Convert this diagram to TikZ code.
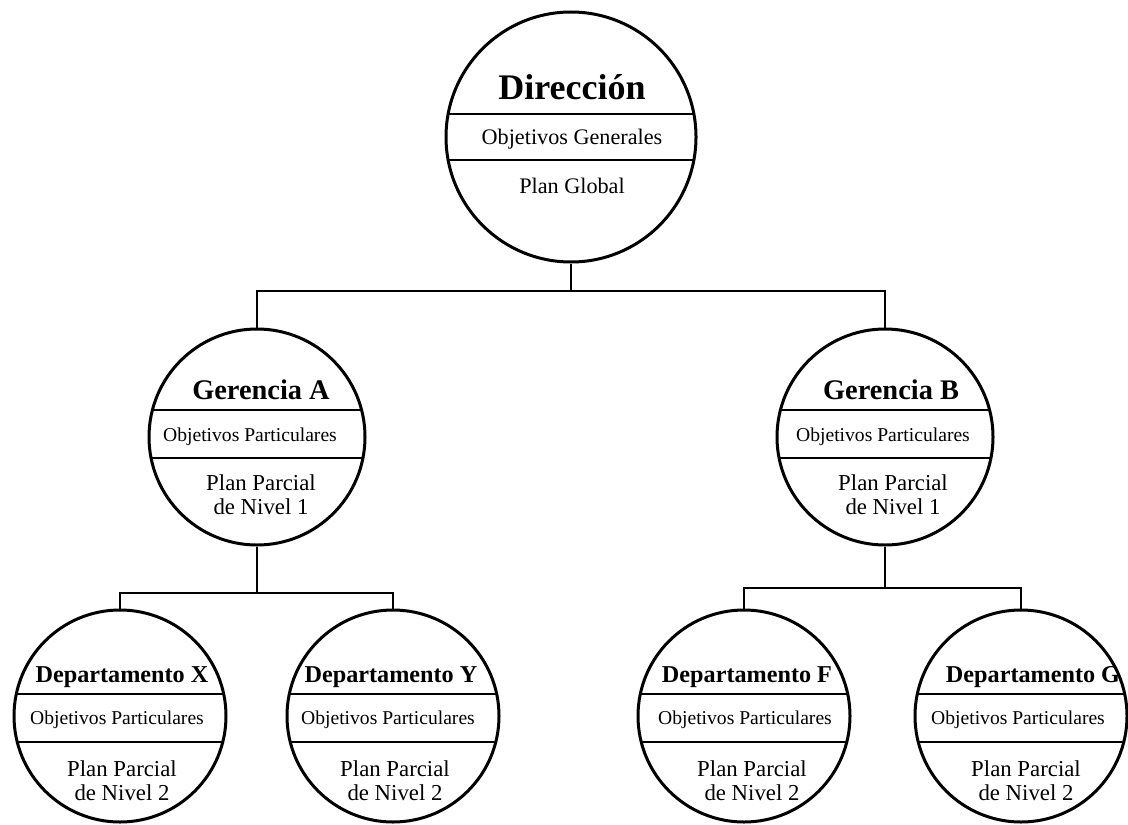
\documentclass[tikz,border=0pt]{standalone}
\usepackage{fontspec}
\setmainfont{Liberation Serif}
\tikzstyle{circulo}=[shape=circle,draw,line width=1.5pt,inner sep=0]
\tikzstyle{jefe}=[circulo,minimum size=125pt]
\tikzstyle{gerencia}=[circulo,minimum size=108pt]
\tikzstyle{depto}=[circulo,minimum size=106pt]
\tikzstyle{raya}=[line width=1pt]
\tikzstyle{conn}=[line width=0.8pt]
\tikzstyle{tjefe}=[anchor=base,inner sep=0,font=\bfseries\fontsize{18}{20}\selectfont]
\tikzstyle{tger}=[anchor=base,inner sep=0,font=\bfseries\fontsize{14.2}{16}\selectfont]
\tikzstyle{tdep}=[anchor=base,inner sep=0,font=\bfseries\fontsize{12.1}{14}\selectfont]
\tikzstyle{objgen}=[anchor=base,inner sep=0,font=\fontsize{11.1}{13}\selectfont]
\tikzstyle{objpar}=[anchor=base,inner sep=0,font=\fontsize{9.8}{12}\selectfont]
\tikzstyle{plan}=[inner sep=0,align=center,font=\fontsize{11.4}{12}\selectfont]

\begin{document}
\begin{tikzpicture}[x=0.5pt,y=-0.5pt]
\useasboundingbox (0,0) rectangle (1128,824);
% circulos
\node[jefe] (dir) at (571,137) {};
\node[gerencia] (gerA) at (257,437) {};
\node[gerencia] (gerB) at (885,437) {};
\node[depto] (depX) at (120,716) {};
\node[depto] (depY) at (393,716) {};
\node[depto] (depF) at (744,716) {};
\node[depto] (depG) at (1021,716) {};

% rayas dentro de cada circulo
\begin{scope}
\clip (dir.center) circle (62.5pt);
\draw[raya] ([yshift=11.5pt]dir.west)--([yshift=11.5pt]dir.east);
\draw[raya] ([yshift=-11.5pt]dir.west)--([yshift=-11.5pt]dir.east);
\end{scope}
\begin{scope}
\clip (gerA.center) circle (54pt);
\draw[raya] ([yshift=13.5pt]gerA.west)--([yshift=13.5pt]gerA.east);
\draw[raya] ([yshift=-10.5pt]gerA.west)--([yshift=-10.5pt]gerA.east);
\end{scope}
\begin{scope}
\clip (gerB.center) circle (54pt);
\draw[raya] ([yshift=13.5pt]gerB.west)--([yshift=13.5pt]gerB.east);
\draw[raya] ([yshift=-10.5pt]gerB.west)--([yshift=-10.5pt]gerB.east);
\end{scope}
\begin{scope}
\clip (depX.center) circle (53pt);
\draw[raya] ([yshift=11pt]depX.west)--([yshift=11pt]depX.east);
\draw[raya] ([yshift=-13pt]depX.west)--([yshift=-13pt]depX.east);
\end{scope}
\begin{scope}
\clip (depY.center) circle (53pt);
\draw[raya] ([yshift=11pt]depY.west)--([yshift=11pt]depY.east);
\draw[raya] ([yshift=-13pt]depY.west)--([yshift=-13pt]depY.east);
\end{scope}
\begin{scope}
\clip (depF.center) circle (53pt);
\draw[raya] ([yshift=11pt]depF.west)--([yshift=11pt]depF.east);
\draw[raya] ([yshift=-13pt]depF.west)--([yshift=-13pt]depF.east);
\end{scope}
\begin{scope}
\clip (depG.center) circle (53pt);
\draw[raya] ([yshift=11pt]depG.west)--([yshift=11pt]depG.east);
\draw[raya] ([yshift=-13pt]depG.west)--([yshift=-13pt]depG.east);
\end{scope}

% textos
\node[tjefe] (dirT) at (572,99) {Dirección};
\node[objgen] (dirO) at (572,144) {Objetivos Generales};
\node[objgen] (dirP) at (572,193) {Plan Global};

\node[tger] (gerAT) at (261,399) {Gerencia A};
\node[objpar] (gerAO) at (250,441) {Objetivos Particulares};
\node[plan] (gerAP) at (261,495) {Plan Parcial\\de Nivel 1};
\node[tger] (gerBT) at (891,399) {Gerencia B};
\node[objpar] (gerBO) at (883,441) {Objetivos Particulares};
\node[plan] (gerBP) at (893,495) {Plan Parcial\\de Nivel 1};

\node[tdep] (depXT) at (122,682) {Departamento X};
\node[objpar] (depXO) at (117,724) {Objetivos Particulares};
\node[plan] (depXP) at (122,781) {Plan Parcial\\de Nivel 2};
\node[tdep] (depYT) at (391,682) {Departamento Y};
\node[objpar] (depYO) at (388,724) {Objetivos Particulares};
\node[plan] (depYP) at (395,781) {Plan Parcial\\de Nivel 2};
\node[tdep] (depFT) at (747,682) {Departamento F};
\node[objpar] (depFO) at (745,724) {Objetivos Particulares};
\node[plan] (depFP) at (752,781) {Plan Parcial\\de Nivel 2};
\node[tdep] (depGT) at (1033,682) {Departamento G};
\node[objpar] (depGO) at (1018,724) {Objetivos Particulares};
\node[plan] (depGP) at (1026,781) {Plan Parcial\\de Nivel 2};

% conexiones
\coordinate (bar0) at (571,291);
\coordinate (barA) at (257,593);
\coordinate (barB) at (885,588);
\draw[conn] (dir.south)--(bar0);
\draw[conn] (gerA.north)|-(bar0)-|(gerB.north);
\draw[conn] (gerA.south)--(barA);
\draw[conn] (depX.north)|-(barA)-|(depY.north);
\draw[conn] (gerB.south)--(barB);
\draw[conn] (depF.north)|-(barB)-|(depG.north);
\end{tikzpicture}
\end{document}
